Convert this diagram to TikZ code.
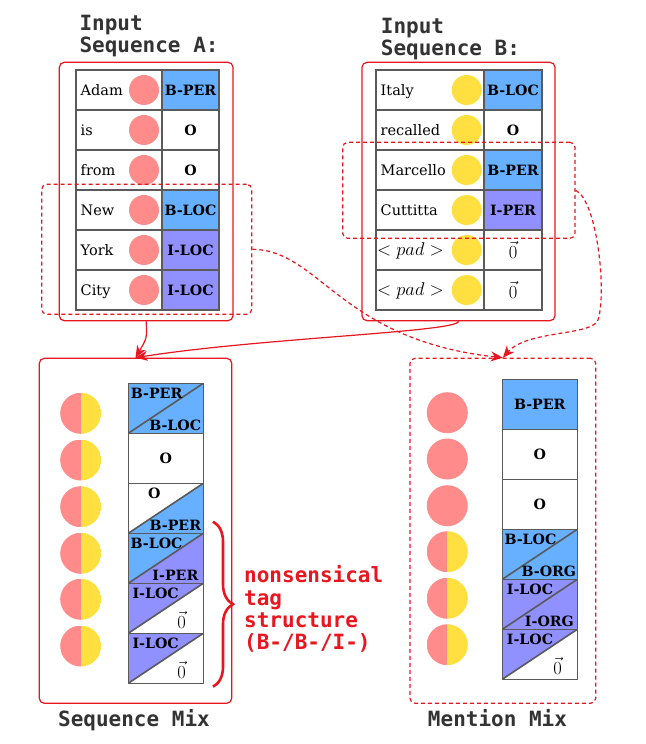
\documentclass[tikz,border=0pt]{standalone}
\usepackage{fix-cm}
\usepackage[no-math]{fontspec}
\setmainfont{DejaVu Serif}
\newfontfamily\monofam{DejaVu Sans Mono}
\usetikzlibrary{arrows.meta,decorations.pathreplacing}
\definecolor{pinkc}{HTML}{FF8B8B}
\definecolor{yellowc}{HTML}{FFE040}
\definecolor{bluec}{HTML}{66B0FF}
\definecolor{purplec}{HTML}{9090FF}
\definecolor{gridc}{HTML}{5A5A5A}
\definecolor{titlec}{HTML}{333333}
\definecolor{redc}{HTML}{E8161E}
\begin{document}
\begin{tikzpicture}[x=1pt,y=-1pt,
  cellbox/.style={draw=gridc, line width=1.2pt, inner sep=0pt, outer sep=0pt},
  tagtxt/.style={font=\fontsize{14.2}{14}\selectfont\bfseries, inner sep=0pt},
  wordtxt/.style={font=\fontsize{14.5}{15}\selectfont, inner sep=0pt, anchor=base west},
  mathtxt/.style={font=\fontsize{18.5}{20}\selectfont, inner sep=0pt},
  dotA/.style={circle, fill=pinkc, minimum size=30pt, inner sep=0pt},
  dotB/.style={circle, fill=yellowc, minimum size=30pt, inner sep=0pt},
  bigdot/.style={circle, fill=pinkc, minimum size=41pt, inner sep=0pt},
  halfdot/.style={circle, minimum size=41pt, inner sep=0pt, path picture={
     \fill[pinkc] (path picture bounding box.south west) rectangle (path picture bounding box.north);
     \fill[yellowc] (path picture bounding box.south) rectangle (path picture bounding box.north east);}},
  splitcell/.style 2 args={cellbox, minimum width=75pt, minimum height=50pt, path picture={
     \fill[#1] (path picture bounding box.south west) -- (path picture bounding box.north west) -- (path picture bounding box.north east) -- cycle;
     \fill[#2] (path picture bounding box.south west) -- (path picture bounding box.south east) -- (path picture bounding box.north east) -- cycle;
     \draw[gridc, line width=1.6pt] (path picture bounding box.south west) -- (path picture bounding box.north east);}},
  fullcell/.style={cellbox, minimum width=75pt, minimum height=50pt},
  redbox/.style={draw=redc, line width=1.2pt, rounded corners=5pt, inner sep=0pt},
  reddash/.style={redbox, dash pattern=on 4pt off 3pt},
  headtxt/.style={font=\monofam\fontsize{21}{22}\selectfont\bfseries, text=titlec, align=left, inner sep=0pt},
  conn/.style={draw=redc, line width=1.2pt, -{Stealth[length=12pt,width=10pt]}},
  dconn/.style={conn, dash pattern=on 4pt off 3pt}
]
\fill[white] (0,0) rectangle (645,744);
\useasboundingbox (0,0) rectangle (645,744);

% titles
\node[headtxt, anchor=north west] (titleA) at (79.3,14.8) {Input\\Sequence A:};
\node[headtxt, anchor=north west] (titleB) at (380.7,18.1) {Input\\Sequence B:};

% table A
\foreach \w/\t/\c [count=\i] in {Adam/B-PER/bluec,is/O/white,from/O/white,New/B-LOC/bluec,York/I-LOC/purplec,City/I-LOC/purplec}{
  \node[cellbox, minimum width=86pt, minimum height=40pt] (wA\i) at (119,50+40*\i) {};
  \node[cellbox, fill=\c, minimum width=57pt, minimum height=40pt, tagtxt] (tA\i) at (190.5,50+40*\i) {\t};
  \node[dotA] (cA\i) at (144,50+40*\i) {};
  \node[wordtxt] (xA\i) at (80.5,55.5+40*\i) {\w};
}

% table B
\foreach \w/\t/\c [count=\i] in {Italy/B-LOC/bluec,recalled/O/white,Marcello/B-PER/bluec,Cuttitta/I-PER/purplec}{
  \node[cellbox, minimum width=108pt, minimum height=40pt] (wB\i) at (430,50+40*\i) {};
  \node[cellbox, fill=\c, minimum width=58pt, minimum height=40pt, tagtxt] (tB\i) at (513,50+40*\i) {\t};
  \node[dotB] (cB\i) at (466.7,50+40*\i) {};
  \node[wordtxt] (xB\i) at (380.5,55.5+40*\i) {\w};
}
\foreach \i in {5,6}{
  \node[cellbox, minimum width=108pt, minimum height=40pt] (wB\i) at (430,50+40*\i) {};
  \node[cellbox, mathtxt, minimum width=58pt, minimum height=40pt] (tB\i) at (513,50+40*\i) {$\vec{0}$};
  \node[dotB] (cB\i) at (466.7,50+40*\i) {};
  \node[mathtxt, anchor=base west] (xB\i) at (377,55.5+40*\i) {$<pad>$};
}

% boxes around inputs
\node[redbox, minimum width=173.7pt, minimum height=258.4pt] (boxA) at (146.15,191.5) {};
\node[redbox, minimum width=193pt, minimum height=258.4pt] (boxB) at (458.5,191.5) {};
\node[reddash, minimum width=210pt, minimum height=130pt] (dA) at (146.7,249.3) {};
\node[reddash, minimum width=232.3pt, minimum height=96pt] (dB) at (458.85,190.3) {};

% sequence mix
\node[redbox, minimum width=192.4pt, minimum height=345pt] (smix) at (135.5,530.8) {};
\foreach \y [count=\i] in {413.3,460,506.7,553.3,599.3,646}{
  \node[halfdot] (sc\i) at (80.7,\y) {};
}
\node[splitcell={bluec}{bluec}] (s1) at (165.8,408.3) {};
\node[fullcell] (s2) at (165.8,458.3) {};
\node[splitcell={white}{bluec}] (s3) at (165.8,508.3) {};
\node[splitcell={bluec}{purplec}] (s4) at (165.8,558.3) {};
\node[splitcell={purplec}{white}] (s5) at (165.8,608.3) {};
\node[splitcell={purplec}{white}] (s6) at (165.8,658.3) {};
\node[tagtxt, anchor=base west] (s1a) at (130.7,398.3) {B-PER};
\node[tagtxt, anchor=base east] (s1b) at (201.3,430) {B-LOC};
\node[tagtxt, anchor=base] (s2a) at (165.7,463.3) {O};
\node[tagtxt, anchor=base] (s3a) at (154.3,498.3) {O};
\node[tagtxt, anchor=base east] (s3b) at (201.3,530) {B-PER};
\node[tagtxt, anchor=base west] (s4a) at (130.5,548.3) {B-LOC};
\node[tagtxt, anchor=base east] (s4b) at (198.5,580.5) {I-PER};
\node[tagtxt, anchor=base west] (s5a) at (132.3,598.3) {I-LOC};
\node[mathtxt, anchor=base] (s5b) at (181.7,628.3) {$\vec{0}$};
\node[tagtxt, anchor=base west] (s6a) at (132.3,648.3) {I-LOC};
\node[mathtxt, anchor=base] (s6b) at (181.7,678.3) {$\vec{0}$};
\node[headtxt, anchor=base] (smixlbl) at (134,726) {Sequence Mix};

% mention mix
\node[reddash, minimum width=185.7pt, minimum height=345pt] (mmix) at (502.85,530.8) {};
\foreach \y [count=\i] in {412.7,459,505.7}{
  \node[bigdot] (mc\i) at (447.3,\y) {};
}
\foreach \y [count=\i from 4] in {551.7,598.3,644.7}{
  \node[halfdot] (mc\i) at (447.3,\y) {};
}
\node[fullcell, fill=bluec, tagtxt] (m1) at (539.8,404.3) {B-PER};
\node[fullcell, tagtxt] (m2) at (539.8,454.3) {O};
\node[fullcell, tagtxt] (m3) at (539.8,504.3) {O};
\node[splitcell={bluec}{bluec}] (m4) at (539.8,554.3) {};
\node[splitcell={purplec}{purplec}] (m5) at (539.8,604.3) {};
\node[splitcell={purplec}{white}] (m6) at (539.8,654.3) {};
\node[tagtxt, anchor=base west] (m4a) at (504.3,544.8) {B-LOC};
\node[tagtxt, anchor=base east] (m4b) at (576.3,576.2) {B-ORG};
\node[tagtxt, anchor=base west] (m5a) at (506.7,594.8) {I-LOC};
\node[tagtxt, anchor=base east] (m5b) at (574,626.2) {I-ORG};
\node[tagtxt, anchor=base west] (m6a) at (506.7,644.8) {I-LOC};
\node[mathtxt, anchor=base] (m6b) at (557.7,674.3) {$\vec{0}$};
\node[headtxt, anchor=base] (mmixlbl) at (497.5,726.5) {Mention Mix};

% brace and note
\draw[redc, line width=2.6pt, decorate, decoration={brace, amplitude=20pt}] (213,521.7) -- (213,686.7);
\node[headtxt, text=redc, anchor=north west, font=\monofam\fontsize{21}{22.3}\selectfont\bfseries] (note) at (244,565.7) {nonsensical\\tag\\structure\\(B-/B-/I-)};

% connectors
\draw[conn] (boxA.south) .. controls (147,338) .. (smix.north);
\draw[conn] (boxB.south) .. controls (458,332) and (260,338) .. (smix.north);
\draw[dconn] (dA.east) .. controls (320,250) and (340,340) .. (mmix.north);
\draw[dconn] (dB.east) .. controls (597,200) and (607,292) .. (598,320) .. controls (592,336) and (527,330) .. (mmix.north);
\end{tikzpicture}
\end{document}
